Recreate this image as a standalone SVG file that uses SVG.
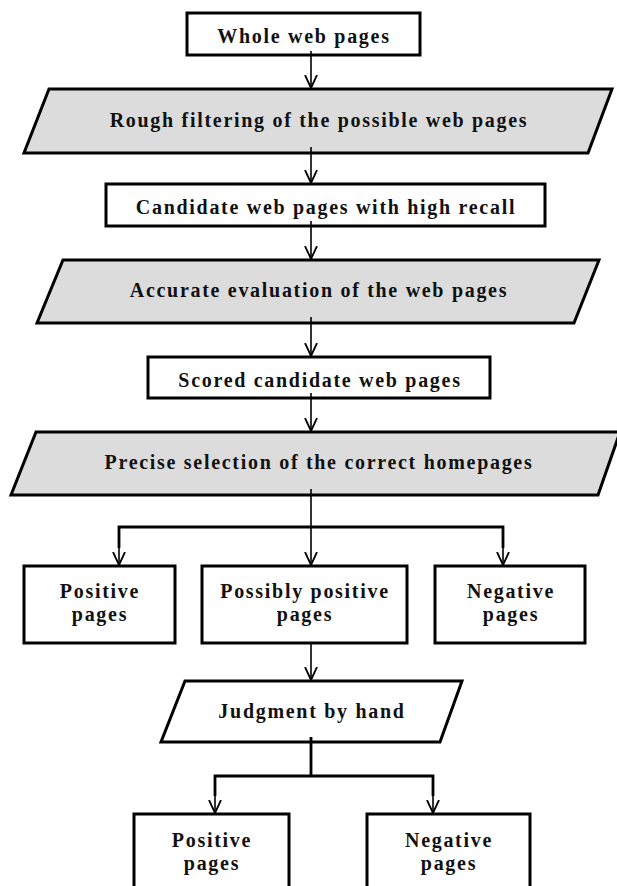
<svg xmlns="http://www.w3.org/2000/svg" width="617" height="886" viewBox="0 0 617 886">
<style>
.box{fill:#fff;stroke:#000;stroke-width:3}
.para{fill:#dcdcdc;stroke:#000;stroke-width:3}
.pw{fill:#fff;stroke:#000;stroke-width:3}
.t{font-family:"Liberation Serif","Times New Roman",serif;font-weight:bold;font-size:20px;letter-spacing:1.7px;text-anchor:middle;fill:#111}
.c{fill:none;stroke:#000;stroke-width:1.6}
.c2{fill:none;stroke:#000;stroke-width:2.8}
</style>
<defs>
<marker id="ah" viewBox="0 0 14 14" refX="13" refY="7" markerWidth="14" markerHeight="14" markerUnits="userSpaceOnUse" orient="auto">
<path d="M0,1 L13,7 L0,13" fill="none" stroke="#000" stroke-width="1.8"/>
</marker>
</defs>
<g id="n1"><rect class="box" x="187" y="13" width="233" height="42"/><text class="t" x="304" y="43">Whole web pages</text></g>
<g id="n2"><polygon class="para" points="49,89 612,89 588,153 24,153"/><text class="t" x="319" y="127">Rough filtering of the possible web pages</text></g>
<g id="n3"><rect class="box" x="106" y="184" width="439" height="42"/><text class="t" x="326" y="214">Candidate web pages with high recall</text></g>
<g id="n4"><polygon class="para" points="63,260 599,260 574,323 37,323"/><text class="t" x="319" y="297">Accurate evaluation of the web pages</text></g>
<g id="n5"><rect class="box" x="148" y="357" width="342" height="41"/><text class="t" x="320" y="387">Scored candidate web pages</text></g>
<g id="n6"><polygon class="para" points="36,432 620,432 598,495 11,495"/><text class="t" x="319" y="469">Precise selection of the correct homepages</text></g>
<g id="n7"><rect class="box" x="24" y="566" width="151" height="77"/><text class="t" x="100" y="598">Positive</text><text class="t" x="100" y="621">pages</text></g>
<g id="n8"><rect class="box" x="202" y="566" width="205" height="77"/><text class="t" x="305" y="598">Possibly positive</text><text class="t" x="305" y="621">pages</text></g>
<g id="n9"><rect class="box" x="435" y="566" width="150" height="77"/><text class="t" x="511" y="598">Negative</text><text class="t" x="511" y="621">pages</text></g>
<g id="n10"><polygon class="pw" points="185,681 462,681 440,742 161,742"/><text class="t" x="312" y="718">Judgment by hand</text></g>
<g id="n11"><rect class="box" x="134" y="814" width="155" height="90"/><text class="t" x="212" y="847">Positive</text><text class="t" x="212" y="870">pages</text></g>
<g id="n12"><rect class="box" x="367" y="814" width="163" height="90"/><text class="t" x="449" y="847">Negative</text><text class="t" x="449" y="870">pages</text></g>
<g id="connectors">
<path class="c" d="M311,51 V88" marker-end="url(#ah)"/>
<path class="c" d="M311,147 V183" marker-end="url(#ah)"/>
<path class="c" d="M311,221 V259" marker-end="url(#ah)"/>
<path class="c" d="M311,317 V356" marker-end="url(#ah)"/>
<path class="c" d="M311,393 V431" marker-end="url(#ah)"/>
<path class="c" d="M311,489 V565" marker-end="url(#ah)"/>
<path class="c2" d="M119,548 V527 H503 V548"/>
<path class="c" d="M119,545 V565" marker-end="url(#ah)"/>
<path class="c" d="M503,545 V565" marker-end="url(#ah)"/>
<path class="c" d="M311,643 V680" marker-end="url(#ah)"/>
<path class="c2" d="M311,737 V776 M215,796 V776 H433 V796"/>
<path class="c" d="M215,793 V813" marker-end="url(#ah)"/>
<path class="c" d="M433,793 V813" marker-end="url(#ah)"/>
</g>
</svg>
